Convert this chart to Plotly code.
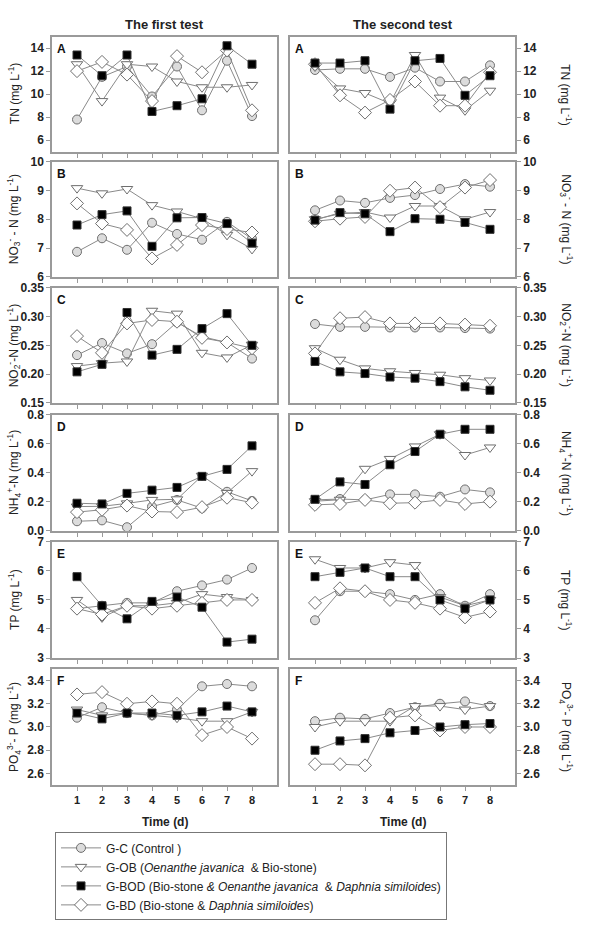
import plotly.graph_objects as go

days = [1, 2, 3, 4, 5, 6, 7, 8]

# ---- The first test ----
tn1_c = [7.8, 11.5, 12.4, 9.8, 12.4, 8.6, 12.9, 8.1]
tn1_ob = [12.6, 9.4, 12.6, 12.4, 11.1, 10.6, 10.6, 10.8]
tn1_bod = [13.4, 11.6, 13.4, 8.5, 9.0, 9.6, 14.2, 12.6]
tn1_bd = [12.0, 12.8, 11.7, 9.4, 13.3, 11.9, 13.8, 8.6]

no3_1_c = [6.87, 7.34, 6.94, 7.88, 7.49, 7.29, 7.91, 7.32]
no3_1_ob = [9.08, 8.90, 9.05, 8.49, 8.27, 8.02, 7.46, 6.97]
no3_1_bod = [7.80, 8.16, 8.29, 7.06, 8.05, 8.06, 7.85, 7.17]
no3_1_bd = [8.55, 7.85, 7.63, 6.64, 7.11, 7.80, 7.66, 7.54]

no2_1_c = [0.233, 0.254, 0.236, 0.252, 0.290, 0.265, 0.255, 0.227]
no2_1_ob = [0.214, 0.219, 0.222, 0.310, 0.305, 0.237, 0.229, 0.251]
no2_1_bod = [0.204, 0.217, 0.307, 0.233, 0.243, 0.279, 0.305, 0.250]
no2_1_bd = [0.266, 0.237, 0.288, 0.294, 0.291, 0.263, 0.255, 0.245]

nh4_1_c = [0.067, 0.073, 0.026, 0.168, 0.214, 0.157, 0.270, 0.207]
nh4_1_ob = [0.168, 0.170, 0.190, 0.214, 0.218, 0.380, 0.262, 0.412]
nh4_1_bod = [0.191, 0.186, 0.259, 0.281, 0.300, 0.376, 0.424, 0.586]
nh4_1_bd = [0.130, 0.146, 0.175, 0.134, 0.130, 0.164, 0.229, 0.195]

tp1_c = [4.7, 4.8, 4.9, 4.9, 5.3, 5.5, 5.7, 6.1]
tp1_ob = [5.0, 4.4, 4.8, 4.8, 4.9, 5.2, 5.1, 5.0]
tp1_bod = [5.8, 4.8, 4.35, 4.95, 5.1, 4.75, 3.55, 3.65]
tp1_bd = [4.7, 4.5, 4.8, 4.7, 4.8, 4.9, 5.0, 5.0]

po4_1_c = [3.08, 3.17, 3.12, 3.10, 3.15, 3.35, 3.37, 3.35]
po4_1_ob = [3.15, 3.10, 3.12, 3.10, 3.08, 3.05, 3.05, 3.13]
po4_1_bod = [3.12, 3.07, 3.12, 3.12, 3.10, 3.13, 3.18, 3.13]
po4_1_bd = [3.28, 3.30, 3.20, 3.22, 3.20, 2.93, 3.00, 2.90]

# ---- The second test ----
tn2_c = [12.1, 12.2, 12.2, 11.5, 12.3, 11.1, 11.1, 12.5]
tn2_ob = [12.4, 10.5, 10.1, 9.2, 13.4, 9.7, 8.6, 10.3]
tn2_bod = [12.7, 12.7, 12.9, 8.7, 12.9, 13.1, 9.9, 11.6]
tn2_bd = [12.6, 9.9, 8.4, 9.5, 11.1, 9.0, 9.0, 11.9]

no3_2_c = [8.31, 8.65, 8.57, 8.74, 8.84, 9.05, 9.22, 9.13]
no3_2_ob = [8.00, 8.19, 8.25, 8.06, 8.46, 8.46, 8.00, 8.25]
no3_2_bod = [7.97, 8.23, 8.19, 7.57, 8.02, 8.00, 7.89, 7.65]
no3_2_bd = [7.93, 8.02, 8.08, 8.99, 9.10, 8.42, 9.10, 9.36]

no2_2_c = [0.287, 0.282, 0.282, 0.281, 0.281, 0.281, 0.280, 0.279]
no2_2_ob = [0.245, 0.225, 0.210, 0.205, 0.202, 0.199, 0.193, 0.189]
no2_2_bod = [0.222, 0.204, 0.201, 0.195, 0.193, 0.187, 0.178, 0.172]
no2_2_bd = [0.236, 0.297, 0.299, 0.288, 0.288, 0.288, 0.286, 0.284]

nh4_2_c = [0.214, 0.220, 0.214, 0.252, 0.252, 0.236, 0.286, 0.266]
nh4_2_ob = [0.205, 0.215, 0.428, 0.496, 0.582, 0.666, 0.523, 0.575]
nh4_2_bod = [0.218, 0.338, 0.320, 0.456, 0.547, 0.666, 0.700, 0.700]
nh4_2_bd = [0.180, 0.186, 0.214, 0.191, 0.195, 0.214, 0.186, 0.202]

tp2_c = [4.3, 5.3, 5.3, 5.2, 5.0, 5.2, 4.8, 5.2]
tp2_ob = [6.4, 6.1, 6.1, 6.3, 6.2, 5.1, 4.8, 5.0]
tp2_bod = [5.8, 5.95, 6.1, 5.8, 5.8, 5.0, 4.7, 5.0]
tp2_bd = [4.9, 5.4, 5.3, 5.0, 4.9, 4.7, 4.4, 4.6]

po4_2_c = [3.05, 3.08, 3.07, 3.12, 3.17, 3.20, 3.22, 3.18]
po4_2_ob = [3.00, 3.05, 3.05, 3.05, 3.18, 3.18, 3.15, 3.18]
po4_2_bod = [2.80, 2.88, 2.90, 2.95, 2.97, 3.00, 3.02, 3.03]
po4_2_bd = [2.68, 2.68, 2.67, 3.08, 3.10, 2.97, 3.00, 3.00]

series_names = [
    "G-C (Control )",
    "G-OB (<i>Oenanthe javanica</i>  & Bio-stone)",
    "G-BOD (Bio-stone <i>& Oenanthe javanica</i>  & <i>Daphnia similoides</i>)",
    "G-BD (Bio-stone & <i>Daphnia similoides</i>)",
]

panel_letters = ["A", "B", "C", "D", "E", "F"]
y_titles = [
    "TN (mg L<sup>-1</sup>)",
    "NO<sub>3</sub><sup>-</sup> - N (mg L<sup>-1</sup>)",
    "NO<sub>2</sub><sup>-</sup>-N (mg L<sup>-1</sup>)",
    "NH<sub>4</sub><sup>+</sup>-N (mg L<sup>-1</sup>)",
    "TP (mg L<sup>-1</sup>)",
    "PO<sub>4</sub><sup>3-</sup>- P (mg L<sup>-1</sup>)",
]
y_ranges = [[5, 15], [6, 10], [0.15, 0.35], [0, 0.8], [3, 7], [2.5, 3.5]]
y_tickvals = [
    [6, 8, 10, 12, 14],
    [6, 7, 8, 9, 10],
    [0.15, 0.20, 0.25, 0.30, 0.35],
    [0.0, 0.2, 0.4, 0.6, 0.8],
    [3, 4, 5, 6, 7],
    [2.6, 2.8, 3.0, 3.2, 3.4],
]
y_ticktext = [
    ["6", "8", "10", "12", "14"],
    ["6", "7", "8", "9", "10"],
    ["0.15", "0.20", "0.25", "0.30", "0.35"],
    ["0.0", "0.2", "0.4", "0.6", "0.8"],
    ["3", "4", "5", "6", "7"],
    ["2.6", "2.8", "3.0", "3.2", "3.4"],
]

data_first = [
    [tn1_c, tn1_ob, tn1_bod, tn1_bd],
    [no3_1_c, no3_1_ob, no3_1_bod, no3_1_bd],
    [no2_1_c, no2_1_ob, no2_1_bod, no2_1_bd],
    [nh4_1_c, nh4_1_ob, nh4_1_bod, nh4_1_bd],
    [tp1_c, tp1_ob, tp1_bod, tp1_bd],
    [po4_1_c, po4_1_ob, po4_1_bod, po4_1_bd],
]
data_second = [
    [tn2_c, tn2_ob, tn2_bod, tn2_bd],
    [no3_2_c, no3_2_ob, no3_2_bod, no3_2_bd],
    [no2_2_c, no2_2_ob, no2_2_bod, no2_2_bd],
    [nh4_2_c, nh4_2_ob, nh4_2_bod, nh4_2_bd],
    [tp2_c, tp2_ob, tp2_bod, tp2_bd],
    [po4_2_c, po4_2_ob, po4_2_bod, po4_2_bd],
]

# ---- styling / layout ----
W, H = 611, 930
FONT = "Liberation Sans, Arial, sans-serif"
LINE_C = "#8a8a8a"
FRAME_C = "#9a9a9a"
markers = [
    dict(symbol="circle", color="#dcdcdc", size=9, line=dict(color="#6e6e6e", width=1)),
    dict(symbol="triangle-down", color="white", size=10, line=dict(color="#6e6e6e", width=1)),
    dict(symbol="square", color="black", size=8, line=dict(color="#333333", width=1)),
    dict(symbol="diamond", color="white", size=10, line=dict(color="#6e6e6e", width=1)),
]
draw_order = [0, 1, 3, 2]

col_x = [(52, 277), (290, 515)]
row_y = [(30, 147), (157, 274), (285, 402), (414, 532), (543, 661), (672, 790)]

def fx(px):
    return px / W

def fy(px):
    return 1 - px / H

fig = go.Figure()
annotations = []
layout = {}

ax_i = 0
for c, dataset in enumerate([data_first, data_second]):
    for r in range(6):
        ax_i += 1
        xa = "xaxis" if ax_i == 1 else f"xaxis{ax_i}"
        ya = "yaxis" if ax_i == 1 else f"yaxis{ax_i}"
        xref = "x" if ax_i == 1 else f"x{ax_i}"
        yref = "y" if ax_i == 1 else f"y{ax_i}"
        x0, x1 = col_x[c]
        y0, y1 = row_y[r]
        layout[xa] = dict(
            domain=[fx(x0), fx(x1)], anchor=yref, range=[0, 9],
            tickvals=days, ticktext=[str(d) for d in days],
            showticklabels=(r == 5), ticks="outside", ticklen=4, tickcolor=FRAME_C,
            showline=True, linecolor=FRAME_C, linewidth=1.5, mirror=True,
            showgrid=False, zeroline=False,
            tickfont=dict(family=FONT, size=11, color="#222", weight="bold"),
        )
        layout[ya] = dict(
            domain=[fy(y1), fy(y0)], anchor=xref, range=y_ranges[r],
            tickvals=y_tickvals[r], ticktext=y_ticktext[r],
            side="left" if c == 0 else "right",
            ticks="outside", ticklen=4, tickcolor=FRAME_C,
            showline=True, linecolor=FRAME_C, linewidth=1.5, mirror=True,
            showgrid=False, zeroline=False,
            tickfont=dict(family=FONT, size=12, color="#222", weight="bold"),
        )
        for k in draw_order:
            fig.add_trace(go.Scatter(
                x=days, y=dataset[r][k], mode="lines+markers",
                line=dict(color=LINE_C, width=1),
                marker=markers[k], name=series_names[k],
                showlegend=(ax_i == 1), legendrank=k + 1,
                xaxis=xref, yaxis=yref, cliponaxis=False,
            ))
        annotations.append(dict(
            text=f"<b>{panel_letters[r]}</b>", x=fx(x0 + 3), y=fy(y0 + 3),
            xref="paper", yref="paper", xanchor="left", yanchor="top",
            showarrow=False, font=dict(family=FONT, size=12, color="#111"),
        ))
        if c == 0:
            annotations.append(dict(
                text=y_titles[r], x=fx(14), y=fy((y0 + y1) / 2),
                xref="paper", yref="paper", xanchor="center", yanchor="middle",
                textangle=-90, showarrow=False,
                font=dict(family=FONT, size=12, color="#222"),
            ))
        else:
            annotations.append(dict(
                text=y_titles[r], x=fx(566), y=fy((y0 + y1) / 2),
                xref="paper", yref="paper", xanchor="center", yanchor="middle",
                textangle=90, showarrow=False,
                font=dict(family=FONT, size=12, color="#222"),
            ))

for c, title in enumerate(["The first test", "The second test"]):
    x0, x1 = col_x[c]
    annotations.append(dict(
        text=f"<b>{title}</b>", x=fx((x0 + x1) / 2), y=fy(18),
        xref="paper", yref="paper", xanchor="center", yanchor="middle",
        showarrow=False, font=dict(family=FONT, size=13, color="#222"),
    ))
    annotations.append(dict(
        text="<b>Time (d)</b>", x=fx((x0 + x1) / 2), y=fy(818),
        xref="paper", yref="paper", xanchor="center", yanchor="top",
        showarrow=False, font=dict(family=FONT, size=12, color="#222"),
    ))

fig.update_layout(
    width=W, height=H,
    margin=dict(l=0, r=0, t=0, b=0),
    paper_bgcolor="white", plot_bgcolor="white",
    annotations=annotations,
    legend=dict(
        x=fx(55), y=fy(838), xanchor="left", yanchor="top",
        bordercolor="#777", borderwidth=1, bgcolor="white",
        font=dict(family=FONT, size=12, color="#222"),
        traceorder="normal", itemwidth=40,
    ),
    **layout,
)

fig.write_html("out.html")
